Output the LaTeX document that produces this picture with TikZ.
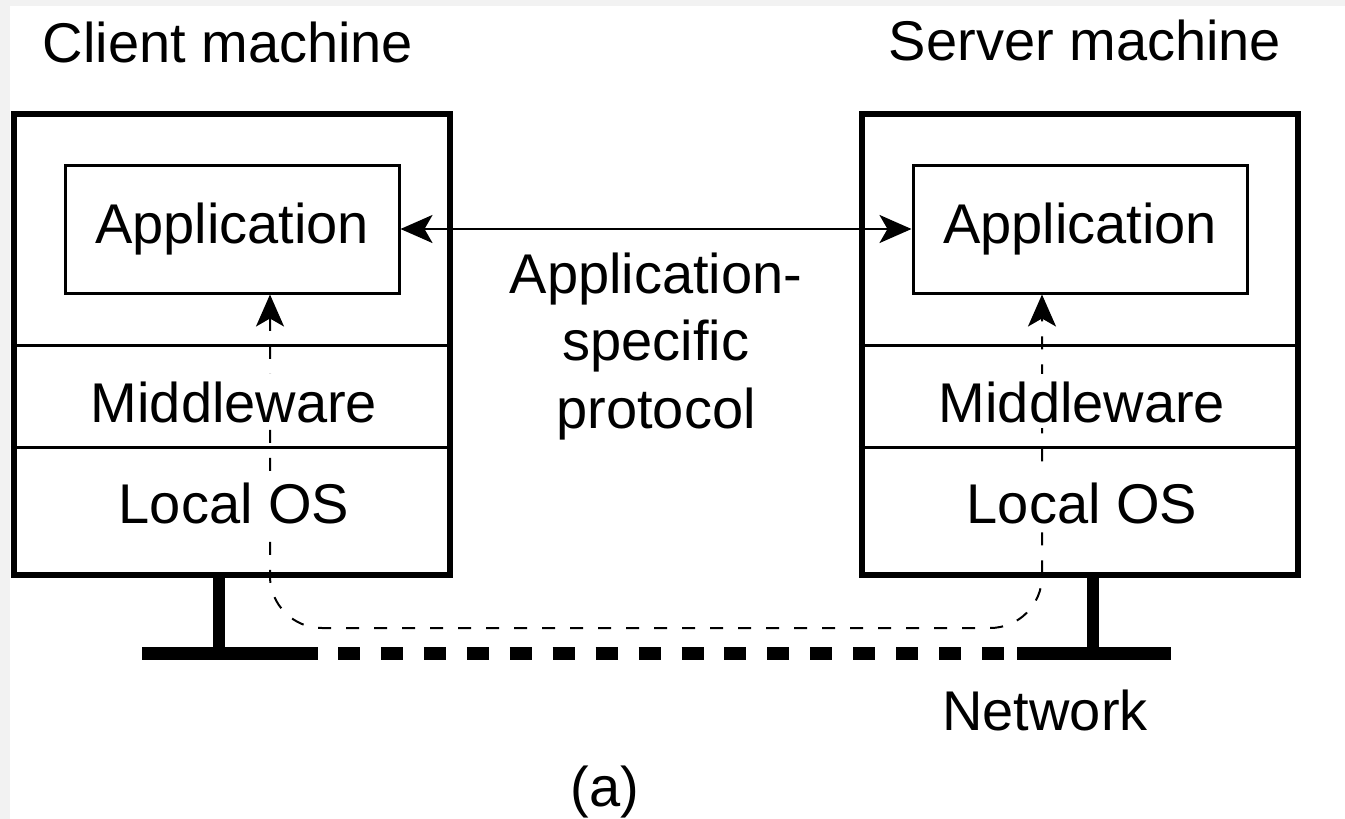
\documentclass[tikz,border=0pt]{standalone}
\usepackage{fontspec}
\setmainfont{Liberation Sans}
\usetikzlibrary{arrows.meta}
\tikzset{arr/.tip={Stealth[length=16pt, width=14pt, inset=4pt]}}
\begin{document}
\begin{tikzpicture}[x=0.5pt,y=-0.5pt,
  lbl/.style={font=\fontsize{28}{33.6}\selectfont, inner sep=0pt},
  layertext/.style={lbl, fill=white, text height=24pt, text depth=3pt, anchor=base},
  machine/.style={draw, line width=3.2pt, minimum width=218pt, minimum height=230.5pt, inner sep=0pt},
  app/.style={draw, line width=1.5pt, minimum width=167pt, minimum height=64pt, inner sep=0pt,
    font=\fontsize{28}{33.6}\selectfont},
  sepline/.style={line width=1.5pt},
  proto/.style={line width=1.3pt, arr-arr},
  pathline/.style={line width=1pt, dash pattern=on 6.5pt off 7.5pt, arr-arr, rounded corners=26pt},
  stand/.style={line width=6pt},
  bar/.style={line width=6.5pt}]
\fill[black!5] (0,0) rectangle (1345,819);
\fill[white] (10,6) rectangle (1345,819);
\useasboundingbox (0,0) rectangle (1345,819);

% machines
\node[machine] (cbox) at (232,344.5) {};
\node[machine] (sbox) at (1080,344.5) {};
\node[app] (capp) at (232,229) {Application};
\node[app] (sapp) at (1080,229) {Application};

% layer separators
\draw[sepline] (cbox.west |- 0,345) -- (cbox.east |- 0,345);
\draw[sepline] (cbox.west |- 0,447) -- (cbox.east |- 0,447);
\draw[sepline] (sbox.west |- 0,345) -- (sbox.east |- 0,345);
\draw[sepline] (sbox.west |- 0,447) -- (sbox.east |- 0,447);

% network
\coordinate (cfoot) at (219,653);
\coordinate (sfoot) at (1093,653);
\draw[stand] (cbox.south -| cfoot) -- (cfoot);
\draw[stand] (sbox.south -| sfoot) -- (sfoot);
\coordinate (nl1) at (142,653);
\coordinate (nl2) at (318,653);
\coordinate (nd1) at (338,653);
\coordinate (nd2) at (1004,653);
\coordinate (nr1) at (1017,653);
\coordinate (nr2) at (1171,653);
\draw[bar] (nl1) -- (nl2);
\draw[bar] (nr1) -- (nr2);
\draw[bar, dash pattern=on 11pt off 10.47pt] (nd1) -- (nd2);

% protocol arrow
\draw[proto] (capp.east) -- (sapp.west);

% dashed path through the stacks
\coordinate (cturn) at (270,628);
\coordinate (sturn) at (1042,628);
\draw[pathline] (capp.south -| cturn) -- (cturn) -- (sturn) -- (sapp.south -| sturn);

% layer labels
\node[layertext] (cmw) at (234,422) {Middleware};
\node[layertext] (cos) at (234,523) {Local OS};
\node[layertext] (smw) at (1082,422) {Middleware};
\node[layertext] (sos) at (1082,523) {Local OS};

% other labels
\node[lbl, anchor=base] (ctitle) at (228,62) {Client machine};
\node[lbl, anchor=base] (stitle) at (1085,61) {Server machine};
\node[lbl, align=center] (plabel) at (656,346.5) {Application-\\specific\\protocol};
\node[lbl, anchor=base] (net) at (1045,730) {Network};
\node[lbl, anchor=base] (cap) at (605,806) {(a)};
\end{tikzpicture}
\end{document}
